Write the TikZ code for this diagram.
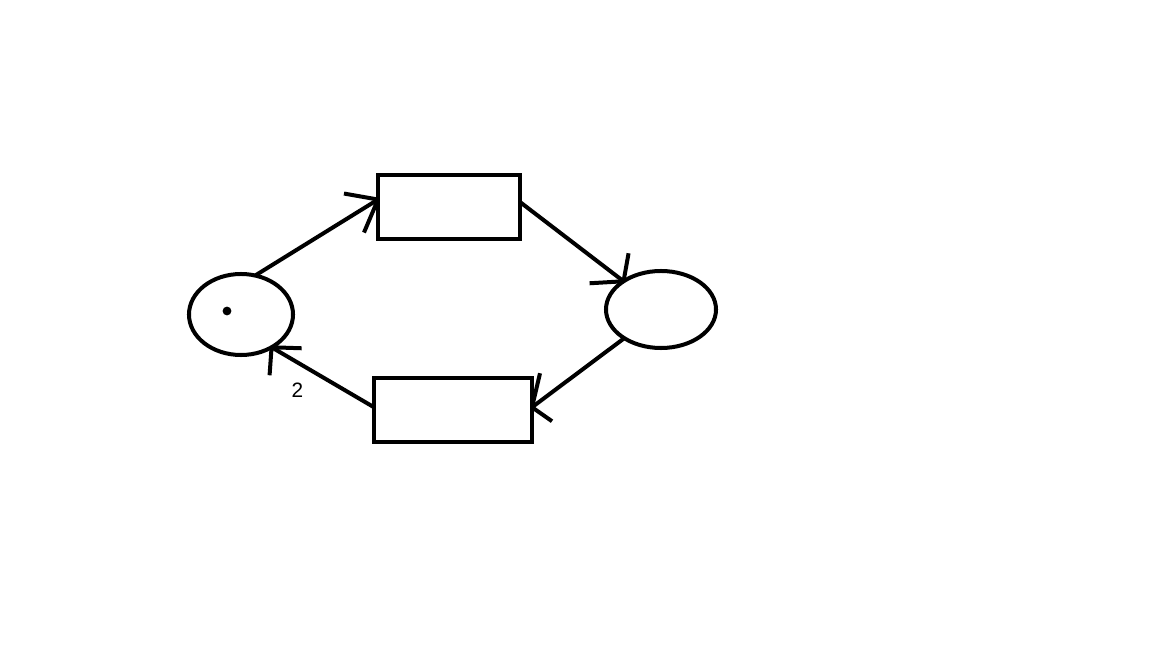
\documentclass[tikz,border=0pt]{standalone}
\usepackage{fontspec}
\setmainfont{Liberation Sans}
\usetikzlibrary{shapes.geometric}
\begin{document}
\begin{tikzpicture}[x=0.025cm,y=-0.025cm,
  every node/.style={inner sep=0pt,outer sep=0pt},
  stroke/.style={line width=0.1cm},
  place/.style={stroke,draw,ellipse},
  trans/.style={stroke,draw,rectangle},
  arc/.style={line width=0.1cm},
  barb/.style={line width=0.1cm}]
  % canvas
  \useasboundingbox (0,0) rectangle (1152,648);

  % places
  \node[place,minimum width=2.6cm,minimum height=2.025cm] (pl) at (241,314.5) {};
  \node[place,minimum width=2.75cm,minimum height=1.925cm] (pr) at (661,309.5) {};
  % token
  \node[circle,fill=black,minimum size=0.22cm] (tok) at (227,311) {};

  % transitions
  \node[trans,minimum width=3.55cm,minimum height=1.6cm] (tt) at (449,207) {};
  \node[trans,minimum width=3.95cm,minimum height=1.6cm] (tb) at (453,410) {};

  % arcs with hand-drawn barbs
  \draw[arc] (pl.70.9) -- (tt.174.4) coordinate (h1);
  \draw[barb] (h1) -- ++(-34,-6) (h1) -- ++(-14,33);

  \draw[arc] (tt.4.8) -- (pr.143.4) coordinate (h2);
  \draw[barb] (h2) -- ++(-34,2) (h2) -- ++(5,-28);

  \draw[arc] (pr.218.4) -- (tb.2.9) coordinate (h3);
  \draw[barb] (h3) -- ++(8,-34) (h3) -- ++(20,14);

  \draw[arc] (tb.178.5) -- (pl.-47.3) coordinate (h4);
  \draw[barb] (h4) -- ++(30,1) (h4) -- ++(-2,28);

  % arc weight
  \node[font=\fontsize{14.8}{17}\selectfont] (w4) at (297.5,390) {2};
\end{tikzpicture}
\end{document}
